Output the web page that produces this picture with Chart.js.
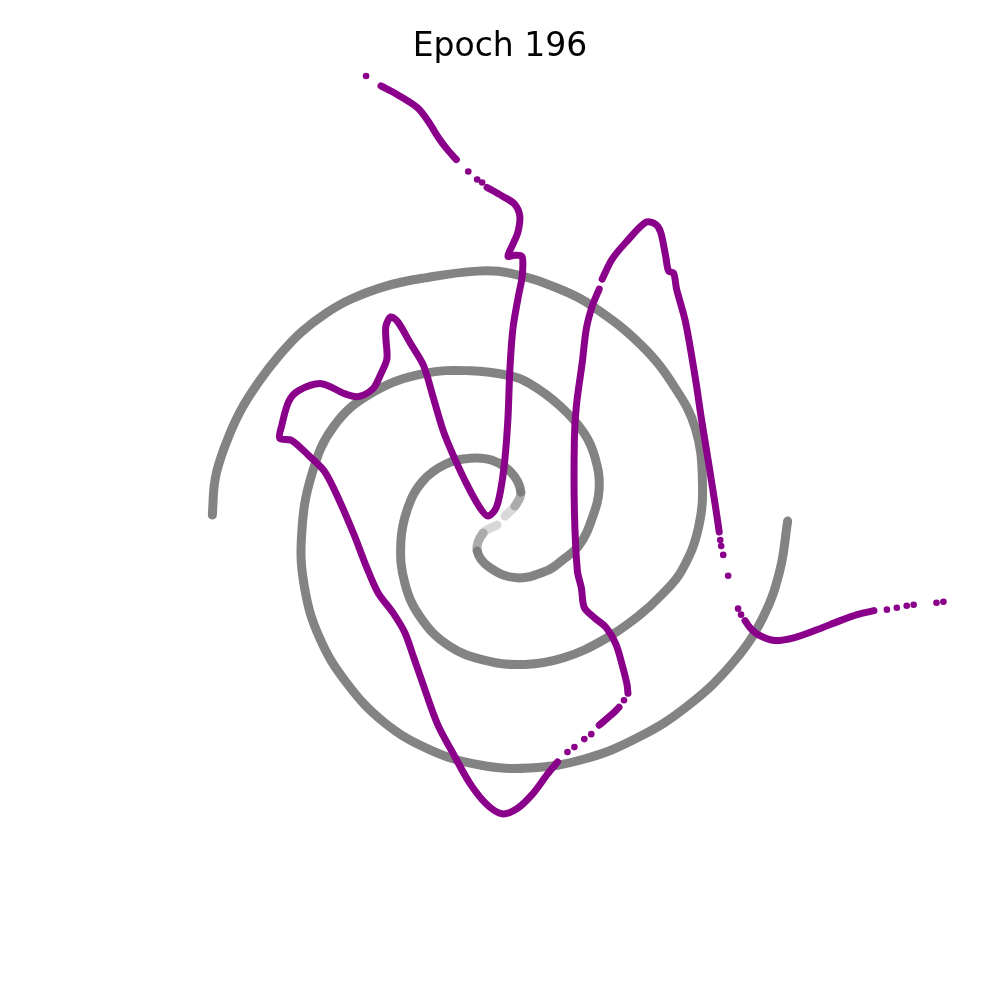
<!DOCTYPE html>
<html lang="en">
<head>
  <meta charset="UTF-8">
  <title>Epoch 196</title>
  <script src="https://cdn.jsdelivr.net/npm/chart.js"></script>
  <style>
    html, body { margin: 0; padding: 0; background: #fff; }
    #wrap { width: 1000px; height: 1000px; position: relative; }
  </style>
</head>
<body>
  <div id="wrap"><canvas id="spiral"></canvas></div>
  <script>
    // Data (plot units, x grows right, y grows down)
    // Gray spiral, arm A, from the centre outwards
    const armAX = [505, 515, 521, 512, 492, 470, 445, 422, 407, 400, 404, 420, 448, 485, 525, 565, 605, 640, 663, 683, 700, 704, 697, 677, 643, 593, 560, 510, 477, 423, 385, 350, 325, 300, 278, 257, 238, 223, 213, 210];
    const armAY = [518, 508, 494, 475, 462, 460, 466, 483, 510, 545, 585, 620, 648, 663, 667, 660, 642, 618, 597, 573, 530, 480, 430, 390, 347, 307, 290, 274, 272, 279, 287, 300, 314, 333, 356, 383, 413, 447, 480, 517];
    // Gray spiral, arm B, from the centre outwards
    const armBX = [497, 483, 477, 490, 517, 547, 562, 580, 593, 600, 596, 585, 560, 530, 510, 470, 423, 373, 333, 310, 300, 303, 318, 345, 383, 430, 480, 530, 585, 640, 690, 735, 765, 782, 790];
    const armBY = [527, 535, 553, 570, 580, 573, 563, 547, 520, 490, 460, 435, 407, 385, 377, 372, 375, 393, 427, 477, 537, 590, 640, 685, 725, 753, 768, 771, 762, 740, 708, 665, 620, 573, 523];

    // Purple curve, dense stretches (null = break in the line)
    const curveX = [380, 397, 417, 428, 438, 447, 456, null,
      487, 503, 515, 520, 518, 513, 508, 515, 522, 523, 522, 518, 513, 510, 508, 505, 501, 496, 488, 480, 467, 452, 443, 433, 423, 410, 397, 390, 385, 385, 386, 380, 372, 357, 343, 320, 297, 287, 280, 278, 290, 307, 323, 337, 353, 365, 377, 392, 404, 413, 420, 437, 453, 470, 487, 502, 517, 533, 548, 558, null,
      600, 613, 620, null,
      629, 628, 623, 617, 607, 595, 585, 582, 578, 575, 575, 577, 583, 587, 593, 600, null,
      603, 613, 627, 647, 657, 662, 667, 670, 675, 678, 687, 697, 703, 710, 717, 721, null,
      747, 752, 760, 777, 797, 820, 843, 860, 877];
    const curveY = [86, 95, 108, 122, 138, 150, 160, null,
      188, 197, 205, 217, 233, 245, 257, 256, 257, 267, 280, 300, 330, 370, 420, 460, 490, 510, 518, 510, 487, 455, 433, 400, 367, 345, 323, 318, 327, 340, 360, 375, 390, 398, 395, 385, 392, 403, 427, 440, 442, 457, 473, 500, 537, 568, 595, 615, 635, 660, 680, 727, 757, 787, 808, 817, 812, 797, 777, 765, null,
      728, 717, 710, null,
      696, 687, 667, 647, 630, 620, 610, 590, 573, 513, 440, 407, 363, 330, 307, 290, null,
      280, 260, 243, 223, 225, 233, 257, 272, 274, 290, 323, 380, 420, 463, 507, 534, null,
      623, 630, 637, 643, 640, 632, 623, 617, 613];
    // Purple curve, loose single points
    const dotsX = [365, 468, 477, 482, 568, 575, 585, 592, 625, 722, 723, 725, 730, 740, 743, 890, 900, 910, 917, 940, 947];
    const dotsY = [76, 172, 180, 183, 755, 750, 742, 737, 703, 542, 548, 557, 578, 611, 617, 612, 610, 608, 607, 605, 604];

    const titleText = 'Epoch 196';

    const toPoints = (xs, ys) => xs.map((x, i) => ({ x: x, y: ys[i] }));
    const purple = '#8b008b';
    const gray = 'rgba(120, 120, 120, 0.92)';

    const armStyle = (pts) => ({
      data: pts,
      showLine: true,
      borderColor: gray,
      borderWidth: 9,
      borderCapStyle: 'round',
      borderJoinStyle: 'round',
      tension: 0.4,
      pointRadius: 0,
      order: 3,
      segment: {
        // the spiral fades out at its centre
        borderColor: ctx => ctx.p0DataIndex < 1 ? '#d8d8d8' : (ctx.p0DataIndex < 2 ? '#ababab' : undefined)
      }
    });

    const ctx = document.getElementById('spiral').getContext('2d');
    new Chart(ctx, {
      type: 'scatter',
      data: {
        datasets: [
          {
            label: 'curve',
            data: toPoints(curveX, curveY),
            showLine: true,
            spanGaps: false,
            borderColor: purple,
            borderWidth: 7,
            borderCapStyle: 'round',
            borderJoinStyle: 'round',
            tension: 0.3,
            pointRadius: 0,
            order: 1,
            clip: false
          },
          {
            label: 'dots',
            data: toPoints(dotsX, dotsY),
            backgroundColor: purple,
            borderWidth: 0,
            pointRadius: 3.3,
            order: 0,
            clip: false
          },
          armStyle(toPoints(armAX, armAY)),
          armStyle(toPoints(armBX, armBY))
        ]
      },
      options: {
        responsive: true,
        maintainAspectRatio: false,
        devicePixelRatio: 1,
        animation: false,
        layout: { padding: 0 },
        plugins: {
          legend: { display: false },
          tooltip: { enabled: false },
          title: {
            display: true,
            text: titleText,
            color: '#000',
            font: { family: 'DejaVu Sans', size: 33, weight: 'normal', lineHeight: 1.2 },
            padding: { top: 28, bottom: 2.4 }
          }
        },
        scales: {
          x: { type: 'linear', min: 0, max: 1000, display: false },
          y: { type: 'linear', min: 70, max: 1000, reverse: true, display: false }
        }
      }
    });
  </script>
</body>
</html>
